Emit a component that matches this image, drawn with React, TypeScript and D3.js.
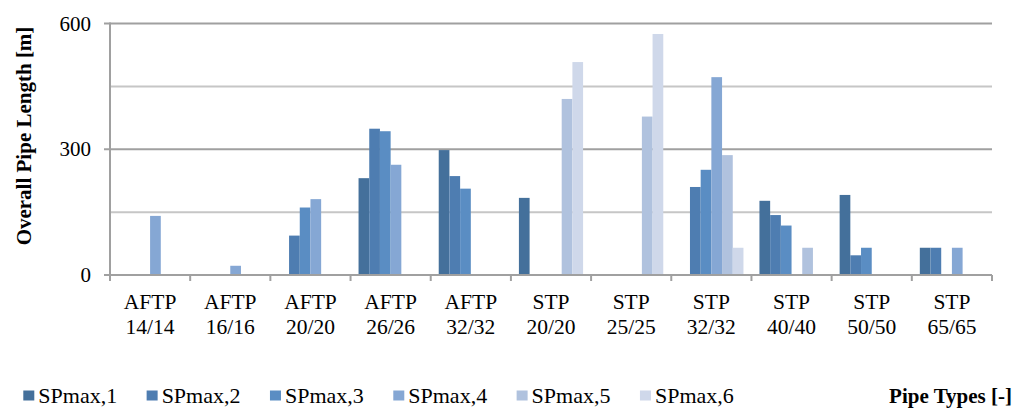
import React from "react";
import * as d3 from "d3";

const categories = [
  ["AFTP", "14/14"], ["AFTP", "16/16"], ["AFTP", "20/20"], ["AFTP", "26/26"], ["AFTP", "32/32"],
  ["STP", "20/20"], ["STP", "25/25"], ["STP", "32/32"], ["STP", "40/40"], ["STP", "50/50"], ["STP", "65/65"],
];
const seriesNames = ["SPmax,1", "SPmax,2", "SPmax,3", "SPmax,4", "SPmax,5", "SPmax,6"];
const sp1 = [0, 0, 0, 231, 298, 184, 0, 0, 177, 191, 65];
const sp2 = [0, 0, 94, 349, 236, 0, 0, 210, 143, 47, 65];
const sp3 = [0, 0, 161, 343, 206, 0, 0, 251, 118, 65, 0];
const sp4 = [141, 22, 181, 263, 0, 0, 0, 472, 0, 0, 65];
const sp5 = [0, 0, 0, 0, 0, 420, 378, 286, 65, 0, 0];
const sp6 = [0, 0, 0, 0, 0, 508, 575, 65, 0, 0, 0];
const seriesValues = [sp1, sp2, sp3, sp4, sp5, sp6];
const colors = ["#44709b", "#4e7db1", "#5a8dc3", "#85a7d4", "#b0c2de", "#cfd8ea"];
const majorTicks = [0, 300, 600];
const minorTicks = [150, 450];

const FONT = "'Liberation Serif', 'Times New Roman', serif";

export default function App() {
  const W = 1024, H = 414;
  const left = 110, right = 992, top = 23.5, bottom = 275;
  const x = d3.scaleBand<number>().domain(d3.range(categories.length)).range([left, right]);
  const bw = x.bandwidth();
  const xs = d3.scaleBand<number>().domain(d3.range(seriesNames.length)).range([8, bw - 8]);
  const y = d3.scaleLinear().domain([0, 600]).range([bottom, top]);
  const boundaries = d3.range(categories.length + 1).map((i) => left + i * bw);

  return (
    <svg width={W} height={H} style={{ position: "absolute", left: 0, top: 0, background: "#fff" }}>
      <rect x={0} y={0} width={W} height={H} fill="#fff" />
      {minorTicks.map((t) => (
        <line key={"mi" + t} x1={left} x2={right} y1={y(t)} y2={y(t)} stroke="#c6c6c6" strokeWidth={2} />
      ))}
      {majorTicks.filter((t) => t > 0).map((t) => (
        <line key={"ma" + t} x1={left - 6} x2={right} y1={y(t)} y2={y(t)} stroke="#a0a0a0" strokeWidth={2} />
      ))}
      {seriesValues.map((vals, s) =>
        vals.map((v, i) =>
          v > 0 ? (
            <rect key={s + "-" + i} x={(x(i) as number) + (xs(s) as number)} y={y(v)} width={xs.bandwidth()} height={bottom - y(v)} fill={colors[s]} />
          ) : null
        )
      )}
      <line x1={left} x2={left} y1={top - 1} y2={bottom} stroke="#a0a0a0" strokeWidth={2} />
      <line x1={left - 6} x2={right} y1={bottom} y2={bottom} stroke="#a0a0a0" strokeWidth={2} />
      {boundaries.map((bx, i) => (
        <line key={"tk" + i} x1={bx} x2={bx} y1={bottom} y2={bottom + 6} stroke="#a0a0a0" strokeWidth={2} />
      ))}
      {majorTicks.map((t) => (
        <text key={"yl" + t} x={91} y={y(t) + 7} textAnchor="end" fontFamily={FONT} fontSize={21} fill="#000">
          {t}
        </text>
      ))}
      {categories.map((c, i) => (
        <text key={"xl" + i} textAnchor="middle" fontFamily={FONT} fontSize={21.5} fill="#000">
          <tspan x={(x(i) as number) + bw / 2} y={309}>{c[0]}</tspan>
          <tspan x={(x(i) as number) + bw / 2} y={334}>{c[1]}</tspan>
        </text>
      ))}
      <text transform={`translate(31,136) rotate(-90)`} textAnchor="middle" fontFamily={FONT} fontSize={21} fontWeight="bold" fill="#000">
        Overall Pipe Length [m]
      </text>
      {seriesNames.map((n, s) => {
        const lx = 23.3 + s * 123.33;
        return (
          <g key={"lg" + s}>
            <rect x={lx} y={390.5} width={11} height={10} fill={colors[s]} />
            <text x={lx + 15} y={403} fontFamily={FONT} fontSize={22} fill="#000">{n}</text>
          </g>
        );
      })}
      <text x={1012} y={403} textAnchor="end" fontFamily={FONT} fontSize={21} fontWeight="bold" fill="#000">
        Pipe Types [-]
      </text>
    </svg>
  );
}
